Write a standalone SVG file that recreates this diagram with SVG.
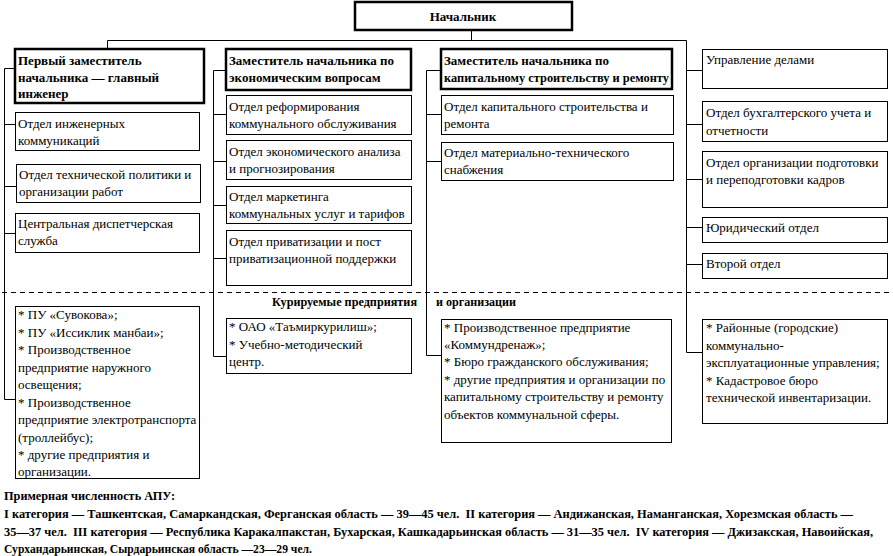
<svg xmlns="http://www.w3.org/2000/svg" width="893" height="556" viewBox="0 0 893 556">
<style>
.box{fill:#fff;stroke:#000;stroke-width:1}
.hb{fill:#fff;stroke:#000;stroke-width:2.5}
.c{fill:none;stroke:#000;stroke-width:1}
.d{fill:none;stroke:#000;stroke-width:1;stroke-dasharray:5,4}
text{font-family:"Liberation Serif","Times New Roman",serif;font-size:13px;fill:#000}
.b{font-weight:bold}
.p{white-space:pre}
.n{font-size:12px}
</style>
<rect width="893" height="556" fill="#fff"/>
<g id="connectors">
<path class="c" d="M471.5,30 V40.5 M107.5,40.5 H686.5 M107.5,40.5 V49"/>
<path class="c" d="M4.5,68.5 V399.5 M4.5,68.5 H15 M4.5,124.5 H15 M4.5,186.5 H16 M4.5,233.5 H15 M4.5,399.5 H15"/>
<path class="c" d="M213.5,70.5 V356.5 M213.5,70.5 H226 M213.5,114.5 H226 M213.5,161.5 H226 M213.5,205.5 H226 M213.5,258.5 H226 M213.5,356.5 H226"/>
<path class="c" d="M426.5,70.5 V355.5 M426.5,70.5 H441 M426.5,114.5 H441 M426.5,161.5 H441 M426.5,355.5 H441"/>
<path class="c" d="M686.5,40.5 V352.5 M686.5,70.5 H702 M686.5,124.5 H702 M686.5,179.5 H702 M686.5,227.5 H702 M686.5,264.5 H702 M686.5,352.5 H702"/>
<path class="d" d="M2,292.5 H890"/>
</g>
<g id="chief"><rect class="hb" x="355" y="2" width="217" height="28"/><text class="b" x="463" y="21" text-anchor="middle">Начальник</text></g>
<g id="dep1"><rect class="hb" x="15" y="49" width="189" height="54"/><text class="b" x="18" y="65">Первый заместитель</text><text class="b" x="18" y="82">начальника — главный</text><text class="b" x="18" y="98">инженер</text></g>
<g id="dep2"><rect class="hb" x="226" y="49" width="185" height="41"/><text class="b" x="229" y="65">Заместитель начальника по</text><text class="b" x="229" y="82">экономическим вопросам</text></g>
<g id="dep3"><rect class="hb" x="441" y="49" width="231" height="40"/><text class="b" x="444" y="65">Заместитель начальника по</text><text class="b" x="444" y="82" textLength="225" lengthAdjust="spacingAndGlyphs">капитальному строительству и ремонту</text></g>
<g id="r1"><rect class="box" x="702.5" y="49.5" width="185" height="39"/><text x="706" y="64">Управление делами</text></g>
<g id="c1a"><rect class="box" x="15.5" y="112.5" width="184" height="38"/><text x="18" y="128">Отдел инженерных</text><text x="18" y="145">коммуникаций</text></g>
<g id="c1b"><rect class="box" x="16.5" y="164.5" width="184" height="38"/><text x="19" y="179">Отдел технической политики и</text><text x="19" y="196">организации работ</text></g>
<g id="c1c"><rect class="box" x="15.5" y="213.5" width="184" height="39"/><text x="18" y="228">Центральная диспетчерская</text><text x="18" y="245">служба</text></g>
<g id="c2a"><rect class="box" x="226.5" y="95.5" width="185" height="39"/><text x="229" y="111">Отдел реформирования</text><text x="229" y="128">коммунального обслуживания</text></g>
<g id="c2b"><rect class="box" x="226.5" y="140.5" width="185" height="39"/><text x="229" y="156">Отдел экономического анализа</text><text x="229" y="173">и прогнозирования</text></g>
<g id="c2c"><rect class="box" x="226.5" y="186.5" width="185" height="37"/><text x="229" y="201">Отдел маркетинга</text><text x="229" y="218">коммунальных услуг и тарифов</text></g>
<g id="c2d"><rect class="box" x="226.5" y="230.5" width="185" height="55"/><text x="229" y="246">Отдел приватизации и пост</text><text x="229" y="263">приватизационной поддержки</text></g>
<g id="c3a"><rect class="box" x="441.5" y="95.5" width="232" height="39"/><text x="444" y="111">Отдел капитального строительства и</text><text x="444" y="128">ремонта</text></g>
<g id="c3b"><rect class="box" x="441.5" y="142.5" width="232" height="38"/><text x="444" y="157">Отдел материально-технического</text><text x="444" y="174">снабжения</text></g>
<g id="r2"><rect class="box" x="702.5" y="101.5" width="185" height="40"/><text x="706" y="117">Отдел бухгалтерского учета и</text><text x="706" y="135">отчетности</text></g>
<g id="r3"><rect class="box" x="702.5" y="151.5" width="185" height="56"/><text x="706" y="167">Отдел организации подготовки</text><text x="706" y="184">и переподготовки кадров</text></g>
<g id="r4"><rect class="box" x="702.5" y="217.5" width="185" height="25"/><text x="706" y="232">Юридический отдел</text></g>
<g id="r5"><rect class="box" x="702.5" y="253.5" width="185" height="25"/><text x="706" y="268">Второй отдел</text></g>
<g id="label"><text class="b" x="272" y="306" textLength="145" lengthAdjust="spacingAndGlyphs">Курируемые предприятия</text><text class="b" x="436" y="306" textLength="80" lengthAdjust="spacingAndGlyphs">и организации</text></g>
<g id="b1"><rect class="box" x="15.5" y="306.5" width="184" height="172"/>
<text x="18" y="319">* ПУ «Сувокова»;</text><text x="18" y="336.5">* ПУ «Иссиклик манбаи»;</text><text x="18" y="354">* Производственное</text><text x="18" y="371.5">предприятие наружного</text><text x="18" y="389">освещения;</text><text x="18" y="406.5">* Производственное</text><text x="18" y="424">предприятие электротранспорта</text><text x="18" y="441.5">(троллейбус);</text><text x="18" y="459">* другие предприятия и</text><text x="18" y="476">организации.</text></g>
<g id="b2"><rect class="box" x="226.5" y="318.5" width="185" height="55"/><text x="229" y="331">* ОАО «Таъмиркурилиш»;</text><text x="229" y="349">* Учебно-методический</text><text x="229" y="366">центр.</text></g>
<g id="b3"><rect class="box" x="441.5" y="319.5" width="230" height="123"/><text x="444" y="332">* Производственное предприятие</text><text x="444" y="349">«Коммундренаж»;</text><text x="444" y="366">* Бюро гражданского обслуживания;</text><text x="444" y="384">* другие предприятия и организации по</text><text x="444" y="401">капитальному строительству и ремонту</text><text x="444" y="419">объектов коммунальной сферы.</text></g>
<g id="b4"><rect class="box" x="702.5" y="319.5" width="185" height="104"/><text x="706" y="332">* Районные (городские)</text><text x="706" y="350">коммунально-</text><text x="706" y="367">эксплуатационные управления;</text><text x="706" y="385">* Кадастровое бюро</text><text x="706" y="402">технической инвентаризации.</text></g>
<g id="note">
<text class="b" x="4" y="500" textLength="171" lengthAdjust="spacingAndGlyphs">Примерная численность АПУ:</text>
<text class="b p n" x="4" y="518" textLength="849" lengthAdjust="spacingAndGlyphs">I категория — Ташкентская, Самаркандская, Ферганская область — 39—45 чел.  II категория — Андижанская, Наманганская, Хорезмская область —</text>
<text class="b p n" x="4" y="536" textLength="869" lengthAdjust="spacingAndGlyphs">35—37 чел.  III категория — Республика Каракалпакстан, Бухарская, Кашкадарьинская область — 31—35 чел.  IV категория — Джизакская, Навоийская,</text>
<text class="b" x="4" y="553" textLength="308" lengthAdjust="spacingAndGlyphs">Сурхандарьинская, Сырдарьинская область —23—29 чел.</text>
</g>
</svg>
